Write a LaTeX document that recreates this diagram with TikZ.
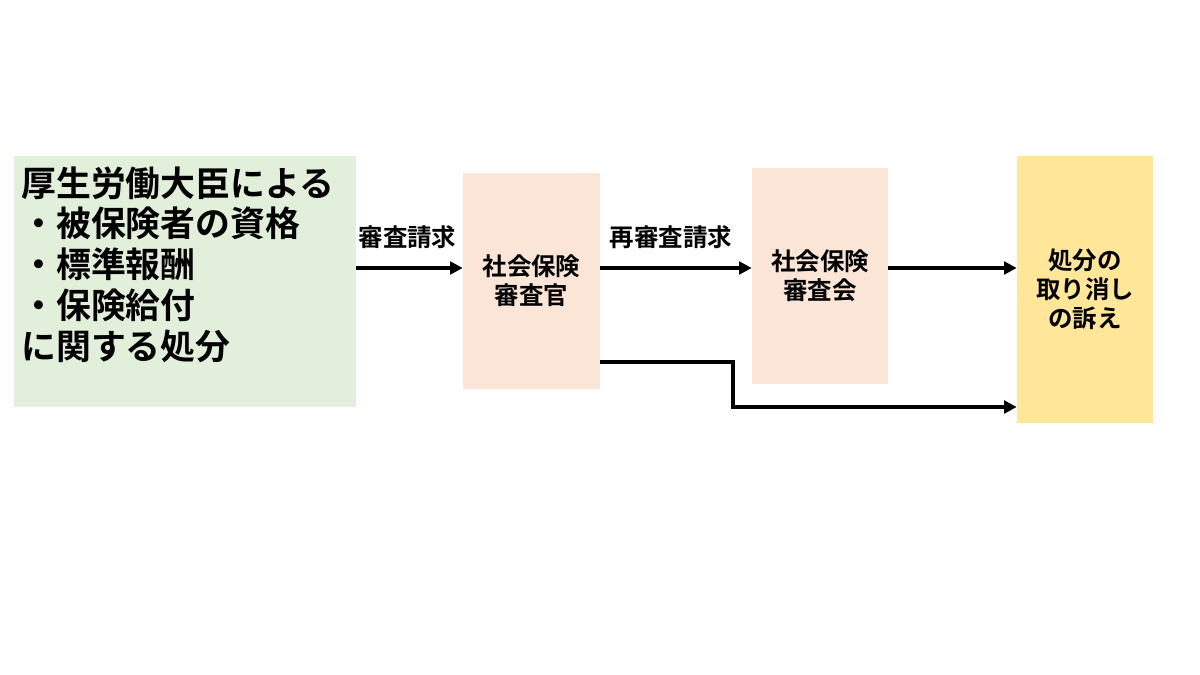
\documentclass[tikz,border=0pt]{standalone}
\usepackage{fontspec}
\setmainfont{Noto Sans CJK JP}[BoldFont={Noto Sans CJK JP Bold}]
\usetikzlibrary{arrows.meta}
\definecolor{vertpale}{HTML}{E2EFDA}
\definecolor{saumon}{HTML}{FBE5D6}
\definecolor{jaune}{HTML}{FFE699}
\begin{document}
\begin{tikzpicture}[x=0.025cm, y=-0.025cm]
\tikzset{boite/.style={inner sep=0pt, align=center, font=\bfseries\fontsize{17.4}{20.6}\selectfont},
fleche/.style={line width=2.5pt, -{Triangle[length=9pt, width=9pt]}},
etiquette/.style={font=\bfseries\fontsize{17.4}{20.6}\selectfont}}
\useasboundingbox (0,0) rectangle (1200,675);
\node[boite, fill=vertpale, minimum width=8.55cm, minimum height=6.275cm] (B1) at (185,281.5) {};
\node[anchor=west, align=left, inner sep=0pt, font=\bfseries\fontsize{24.8}{29}\selectfont] (T1) at (21,264.5) {厚生労働大臣による\\・被保険者の資格\\・標準報酬\\・保険給付\\に関する処分};
\node[boite, fill=saumon, minimum width=3.425cm, minimum height=5.4cm] (B2) at (531.5,281) {社会保険\\審査官};
\node[boite, fill=saumon, minimum width=3.4cm, minimum height=5.4cm] (B3) at (820,276) {社会保険\\審査会};
\node[boite, fill=jaune, minimum width=3.4cm, minimum height=6.675cm] (B4) at (1085,289.5) {処分の\\取り消し\\の訴え};
\coordinate (L1) at (0,268);
\coordinate (L2) at (0,362);
\coordinate (L3) at (0,407);
\coordinate (K1) at (733,0);
\draw[fleche] (B1.east |- L1) -- (B2.west |- L1);
\draw[fleche] (B2.east |- L1) -- (B3.west |- L1);
\draw[fleche] (B3.east |- L1) -- (B4.west |- L1);
\draw[fleche] (B2.east |- L2) -- (K1 |- L2) -- (K1 |- L3) -- (B4.west |- L3);
\node[etiquette] (E1) at (407.5,237) {審査請求};
\node[etiquette] (E2) at (671,237) {再審査請求};
\end{tikzpicture}
\end{document}
